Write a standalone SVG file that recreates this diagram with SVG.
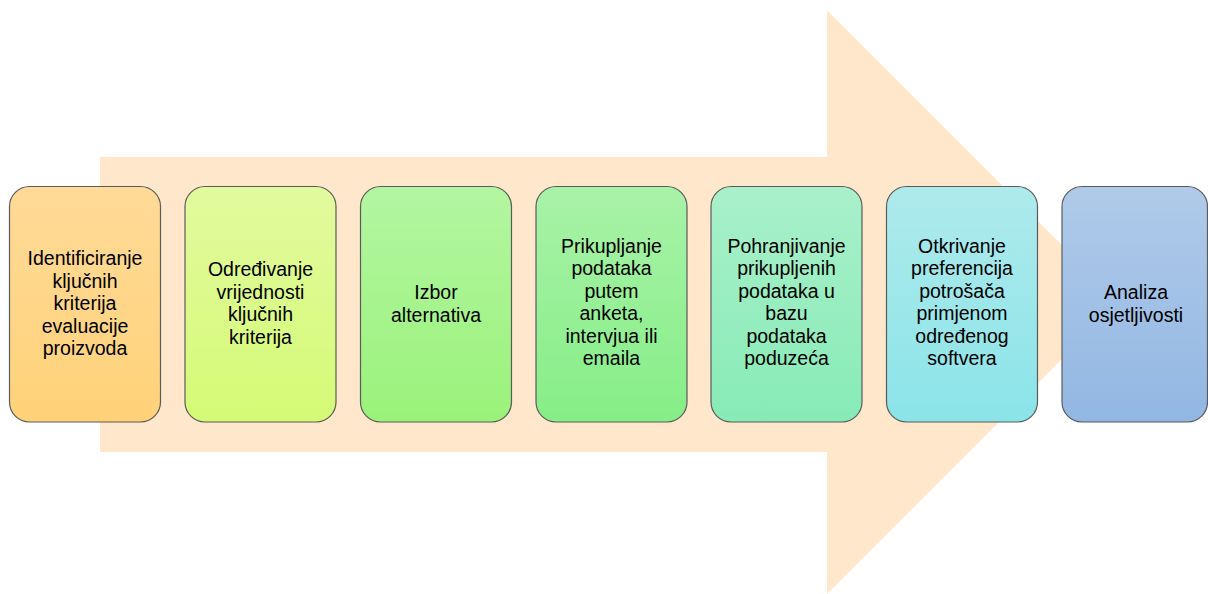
<svg xmlns="http://www.w3.org/2000/svg" width="1208" height="594" viewBox="0 0 1208 594">
<defs>
<style>
.box{stroke:#5a5a5a;stroke-width:1.2}
.t{font-family:"Liberation Sans",Arial,sans-serif;font-size:19.5px;fill:#000;text-anchor:middle}
</style>
<linearGradient id="g1" x1="0" y1="0" x2="0" y2="1"><stop offset="0" stop-color="#FFDA98"/><stop offset="1" stop-color="#FFD279"/></linearGradient>
<linearGradient id="g2" x1="0" y1="0" x2="0" y2="1"><stop offset="0" stop-color="#E2FA9E"/><stop offset="1" stop-color="#D5FA76"/></linearGradient>
<linearGradient id="g3" x1="0" y1="0" x2="0" y2="1"><stop offset="0" stop-color="#B3F6A2"/><stop offset="1" stop-color="#9AF27A"/></linearGradient>
<linearGradient id="g4" x1="0" y1="0" x2="0" y2="1"><stop offset="0" stop-color="#A8F2A8"/><stop offset="1" stop-color="#86EE86"/></linearGradient>
<linearGradient id="g5" x1="0" y1="0" x2="0" y2="1"><stop offset="0" stop-color="#A9F0CB"/><stop offset="1" stop-color="#87EBB6"/></linearGradient>
<linearGradient id="g6" x1="0" y1="0" x2="0" y2="1"><stop offset="0" stop-color="#AEEAEC"/><stop offset="1" stop-color="#8BE4E8"/></linearGradient>
<linearGradient id="g7" x1="0" y1="0" x2="0" y2="1"><stop offset="0" stop-color="#B0CAE9"/><stop offset="1" stop-color="#92B7E3"/></linearGradient>
</defs>
<g id="arrow">
<polygon points="100,157 827,157 827,10 1119,302 827,594 827,452 100,452" fill="#FFE7CC"/>
</g>
<g id="connectors"></g>
<g id="n1">
<rect class="box" x="9.5" y="186.5" width="151" height="235.5" rx="20" fill="url(#g1)"/>
<text class="t" x="85" y="265"><tspan x="85">Identificiranje</tspan><tspan x="85" dy="22.5">ključnih</tspan><tspan x="85" dy="22.5">kriterija</tspan><tspan x="85" dy="22.5">evaluacije</tspan><tspan x="85" dy="22.5">proizvoda</tspan></text>
</g>
<g id="n2">
<rect class="box" x="185" y="186.5" width="151" height="235.5" rx="20" fill="url(#g2)"/>
<text class="t" x="260.5" y="276"><tspan x="260.5">Određivanje</tspan><tspan x="260.5" dy="22.5">vrijednosti</tspan><tspan x="260.5" dy="22.5">ključnih</tspan><tspan x="260.5" dy="22.5">kriterija</tspan></text>
</g>
<g id="n3">
<rect class="box" x="360.5" y="186.5" width="151" height="235.5" rx="20" fill="url(#g3)"/>
<text class="t" x="436" y="299"><tspan x="436">Izbor</tspan><tspan x="436" dy="22.5">alternativa</tspan></text>
</g>
<g id="n4">
<rect class="box" x="536" y="186.5" width="151" height="235.5" rx="20" fill="url(#g4)"/>
<text class="t" x="611.5" y="252.5"><tspan x="611.5">Prikupljanje</tspan><tspan x="611.5" dy="22.5">podataka</tspan><tspan x="611.5" dy="22.5">putem</tspan><tspan x="611.5" dy="22.5">anketa,</tspan><tspan x="611.5" dy="22.5">intervjua ili</tspan><tspan x="611.5" dy="22.5">emaila</tspan></text>
</g>
<g id="n5">
<rect class="box" x="711" y="186.5" width="151" height="235.5" rx="20" fill="url(#g5)"/>
<text class="t" x="786.5" y="252.5"><tspan x="786.5">Pohranjivanje</tspan><tspan x="786.5" dy="22.5">prikupljenih</tspan><tspan x="786.5" dy="22.5">podataka u</tspan><tspan x="786.5" dy="22.5">bazu</tspan><tspan x="786.5" dy="22.5">podataka</tspan><tspan x="786.5" dy="22.5">poduzeća</tspan></text>
</g>
<g id="n6">
<rect class="box" x="886.5" y="186.5" width="151" height="235.5" rx="20" fill="url(#g6)"/>
<text class="t" x="962" y="252.5"><tspan x="962">Otkrivanje</tspan><tspan x="962" dy="22.5">preferencija</tspan><tspan x="962" dy="22.5">potrošača</tspan><tspan x="962" dy="22.5">primjenom</tspan><tspan x="962" dy="22.5">određenog</tspan><tspan x="962" dy="22.5">softvera</tspan></text>
</g>
<g id="n7">
<rect class="box" x="1062" y="186.5" width="145.5" height="235.5" rx="20" fill="url(#g7)"/>
<text class="t" x="1136" y="299"><tspan x="1136">Analiza</tspan><tspan x="1136" dy="22.5">osjetljivosti</tspan></text>
</g>
</svg>
